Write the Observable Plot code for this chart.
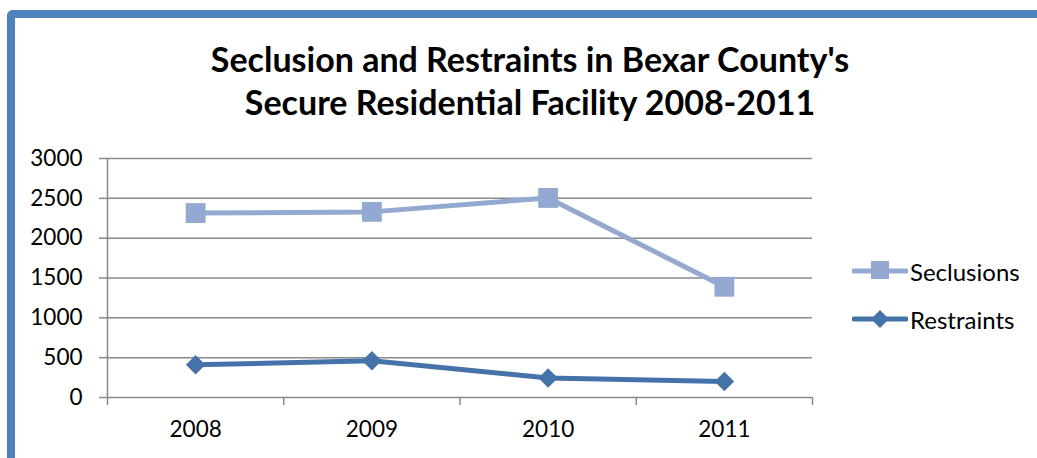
<!DOCTYPE html>
<html>
<head>
<meta charset="utf-8">
<script src="https://cdn.jsdelivr.net/npm/d3@7"></script>
<script src="https://cdn.jsdelivr.net/npm/@observablehq/plot@0.6"></script>
<style>
  html, body { margin: 0; padding: 0; background: #fff; }
  #wrap { position: relative; width: 1037px; height: 458px; overflow: hidden; font-family: Lato, "Open Sans", sans-serif; }
  #frame { position: absolute; left: 7px; top: 10px; width: 1100px; height: 500px;
           border-top: 8px solid #4F81BD; border-left: 8px solid #4F81BD; border-top-left-radius: 6px; box-sizing: border-box; }
  #title { position: relative; height: 140px; text-align: center; font-weight: bold; font-size: 34px; line-height: 43px;
           padding-top: 37px; box-sizing: border-box; color: #000; width: 1060px; white-space: nowrap; }
  #chart { position: relative; }
  #legend { position: absolute; left: 852px; top: 247px; font-size: 24px; color: #000; }
  .lg { display: flex; align-items: center; height: 48px; }
  .lg svg { margin-right: 2px; }
</style>
</head>
<body>
<div id="wrap">
  <div id="frame"></div>
  <div id="title">Seclusion and Restraints in Bexar County's<br>Secure Residential Facility 2008-2011</div>
  <div id="chart"></div>
  <div id="legend"></div>
</div>
<script>
const years = [2008, 2009, 2010, 2011];
const seclusions = [2315, 2330, 2505, 1390];
const restraints = [410, 460, 245, 200];
const yTicks = [0, 500, 1000, 1500, 2000, 2500, 3000];
const seriesNames = ["Seclusions", "Restraints"];
const seriesColors = ["#93A9D1", "#4672AA"];

const secData = years.map((y, i) => ({year: y, value: seclusions[i]}));
const resData = years.map((y, i) => ({year: y, value: restraints[i]}));
const bounds = [years[0] - 0.5, ...years.map(y => y + 0.5)];

const gray = "#8A8A8A";
const chart = Plot.plot({
  width: 1037,
  height: 318,
  marginTop: 18,
  marginBottom: 61,
  marginLeft: 107,
  marginRight: 225,
  style: {fontFamily: "Lato, 'Open Sans', sans-serif", fontSize: "22.5px", color: "#000", background: "transparent", overflow: "visible"},
  x: {domain: [years[0] - 0.5, years[years.length - 1] + 0.5]},
  y: {domain: [0, 3000]},
  marks: [
    Plot.ruleY(yTicks, {stroke: gray, strokeWidth: 1.5}),
    Plot.ruleX([bounds[0]], {stroke: gray, strokeWidth: 1.5}),
    Plot.ruleX(bounds, {y1: 0, y2: 0, insetBottom: -8, stroke: gray, strokeWidth: 1.5}),
    Plot.axisY({ticks: yTicks, tickSize: 8, tickPadding: 17, stroke: gray, strokeWidth: 1.5, label: null, tickFormat: d => String(d), fill: "#000", strokeOpacity: 1}),
    Plot.axisX({ticks: years, tickSize: 0, tickPadding: 24, label: null, tickFormat: d => String(d), fill: "#000"}),
    Plot.line(secData, {x: "year", y: "value", stroke: seriesColors[0], strokeWidth: 5}),
    Plot.dot(secData, {x: "year", y: "value", symbol: "square", r: 11.2, fill: seriesColors[0], stroke: "none"}),
    Plot.line(resData, {x: "year", y: "value", stroke: seriesColors[1], strokeWidth: 5}),
    Plot.dot(resData, {x: "year", y: "value", symbol: "diamond2", r: 8.8, fill: seriesColors[1], stroke: "none"})
  ]
});
document.getElementById("chart").appendChild(chart);

// legend
const legend = d3.select("#legend");
seriesNames.forEach((name, i) => {
  const row = legend.append("div").attr("class", "lg");
  const s = row.append("svg").attr("width", 56).attr("height", 22);
  s.append("line").attr("x1", 2).attr("x2", 54).attr("y1", 11).attr("y2", 11)
    .attr("stroke", seriesColors[i]).attr("stroke-width", 5).attr("stroke-linecap", "round");
  if (i === 0) {
    s.append("rect").attr("x", 19).attr("y", 1).attr("width", 18).attr("height", 18).attr("fill", seriesColors[i]);
  } else {
    s.append("path").attr("d", "M28,2L37,11L28,20L19,11Z").attr("fill", seriesColors[i]);
  }
  row.append("span").text(name);
});
</script>
</body>
</html>
